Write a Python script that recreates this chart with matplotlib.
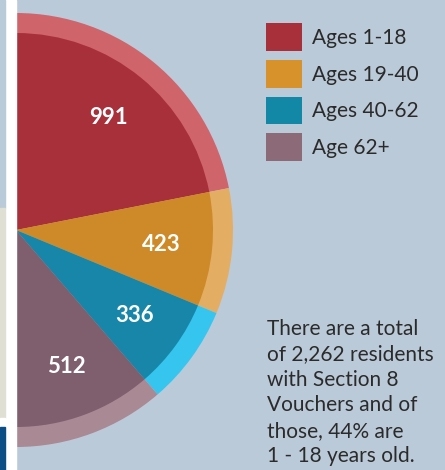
import matplotlib
matplotlib.use('Agg')
import matplotlib.pyplot as plt
from matplotlib.patches import Patch, Rectangle

plt.rcParams['font.family'] = ['Lato', 'DejaVu Sans']

# data
groups = ['Ages 1-18', 'Ages 19-40', 'Ages 40-62', 'Age 62+']
counts = [991, 423, 336, 512]
total = sum(counts)

inner_cols = ['#A8303A', '#CE8A28', '#1886A8', '#7F5E6D']
ring_cols = ['#D0646B', '#E3AE63', '#35C5EF', '#A88994']
legend_cols = ['#A8303A', '#D8922B', '#1388A6', '#8C6A78']
bg = '#BBCAD8'

fig = plt.figure(figsize=(4.45, 4.70), dpi=100)
fig.patch.set_facecolor(bg)
ax = fig.add_axes([0, 0, 1, 1])

# half pie: the hidden wedge takes up the left half
vals = counts + [total]
cx, cy = 16, 240
ax.pie(vals, colors=ring_cols + ['none'], startangle=90, counterclock=False,
       center=(cx, cy), radius=217, frame=True,
       wedgeprops=dict(linewidth=0))
ax.pie(vals, colors=inner_cols + ['none'], startangle=90, counterclock=False,
       center=(cx, cy), radius=197, frame=True,
       labels=[str(c) for c in counts] + [''], labeldistance=0.74,
       textprops=dict(color='white', fontsize=16, fontweight='bold',
                      ha='center', va='center'),
       wedgeprops=dict(linewidth=0))
ax.set_xlim(0, 445)
ax.set_ylim(0, 470)
ax.set_aspect('equal')
ax.axis('off')

# strip on the left edge
ax.add_patch(Rectangle((5, 0), 11, 470, color='white', zorder=5))
ax.add_patch(Rectangle((0, 262), 5, 208, color='#B9CAD9', zorder=5))
ax.add_patch(Rectangle((0, 52), 5, 210, color='#E0DFD3', zorder=5))
ax.add_patch(Rectangle((0, 43), 5, 9, color='white', zorder=5))
ax.add_patch(Rectangle((0, 0), 5, 43, color='#0B4D85', zorder=5))

handles = [Patch(facecolor=c, edgecolor='none') for c in legend_cols]
leg = ax.legend(handles, groups, loc='upper left',
                bbox_to_anchor=(266 / 445, 1 - 23 / 470), frameon=False,
                fontsize=15, handlelength=1.73, handleheight=1.68,
                handletextpad=0.48, labelspacing=0.43, borderpad=0,
                borderaxespad=0)
for t in leg.get_texts():
    t.set_color('#2B2B2B')

ax.text(267, 470 - 319,
        'There are a total\nof 2,262 residents\nwith Section 8\n'
        'Vouchers and of\nthose, 44% are\n1 - 18 years old.',
        fontsize=15, color='#2B2B2B', ha='left', va='top', linespacing=1.34)

fig.savefig('out.png', dpi=100, facecolor=bg)
